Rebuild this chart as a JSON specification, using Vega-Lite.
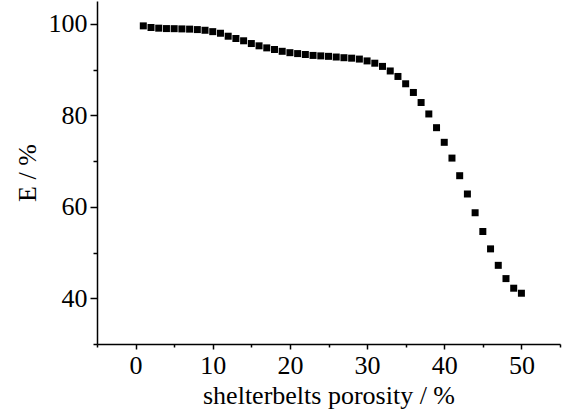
{
  "$schema": "https://vega.github.io/schema/vega-lite/v6.json",
  "width": 463,
  "height": 343,
  "autosize": "none",
  "padding": {"left": 97, "top": 1, "right": 3, "bottom": 73},
  "background": "white",
  "config": {
    "view": {"stroke": null},
    "axis": {"grid": false, "labelFont": "Liberation Serif", "titleFont": "Liberation Serif", "labelColor": "black", "titleColor": "black", "domainColor": "black", "tickColor": "black", "labelFontSize": 26, "titleFontSize": 26, "titleFontWeight": "normal", "domainWidth": 1.5, "tickWidth": 1.5}
  },
  "data": {"values": [
    {"p": 1, "E": 99.56}, {"p": 2, "E": 99.2}, {"p": 3, "E": 99.06}, {"p": 4, "E": 98.97}, {"p": 5, "E": 98.95},
    {"p": 6, "E": 98.9}, {"p": 7, "E": 98.85}, {"p": 8, "E": 98.75}, {"p": 9, "E": 98.6}, {"p": 10, "E": 98.3},
    {"p": 11, "E": 97.95}, {"p": 12, "E": 97.3}, {"p": 13, "E": 96.8}, {"p": 14, "E": 96.3}, {"p": 15, "E": 95.7},
    {"p": 16, "E": 95.2}, {"p": 17, "E": 94.75}, {"p": 18, "E": 94.4}, {"p": 19, "E": 94.0}, {"p": 20, "E": 93.7},
    {"p": 21, "E": 93.5}, {"p": 22, "E": 93.3}, {"p": 23, "E": 93.1}, {"p": 24, "E": 93.0}, {"p": 25, "E": 92.9},
    {"p": 26, "E": 92.75}, {"p": 27, "E": 92.6}, {"p": 28, "E": 92.5}, {"p": 29, "E": 92.3}, {"p": 30, "E": 91.9},
    {"p": 31, "E": 91.4}, {"p": 32, "E": 90.7}, {"p": 33, "E": 89.7}, {"p": 34, "E": 88.5}, {"p": 35, "E": 86.9},
    {"p": 36, "E": 85.0}, {"p": 37, "E": 82.8}, {"p": 38, "E": 80.3}, {"p": 39, "E": 77.3}, {"p": 40, "E": 74.1},
    {"p": 41, "E": 70.65}, {"p": 42, "E": 66.8}, {"p": 43, "E": 62.8}, {"p": 44, "E": 58.7}, {"p": 45, "E": 54.6},
    {"p": 46, "E": 50.8}, {"p": 47, "E": 47.2}, {"p": 48, "E": 44.3}, {"p": 49, "E": 42.2}, {"p": 50, "E": 41.1}
  ]},
  "layer": [
    {
      "mark": {"type": "point", "shape": "square", "filled": true, "size": 49, "color": "black", "opacity": 1},
      "encoding": {
        "x": {"field": "p", "type": "quantitative", "scale": {"domain": [-5, 55], "nice": false, "zero": false},
          "axis": {"orient": "bottom", "values": [0, 10, 20, 30, 40, 50], "tickSize": 5, "labelPadding": 3, "title": "shelterbelts porosity / %", "titlePadding": 4, "labelFlush": false}},
        "y": {"field": "E", "type": "quantitative", "scale": {"domain": [30, 105], "nice": false, "zero": false},
          "axis": {"orient": "left", "values": [40, 60, 80, 100], "tickSize": 7, "labelPadding": 3, "title": "E / %", "titlePadding": 8, "labelFlush": false}}
      }
    },
    {
      "mark": {"type": "point", "opacity": 0},
      "encoding": {
        "x": {"field": "p", "type": "quantitative",
          "axis": {"orient": "bottom", "values": [-5, 5, 15, 25, 35, 45, 55], "tickSize": 3, "labels": false, "domain": false, "title": null}},
        "y": {"field": "E", "type": "quantitative",
          "axis": {"orient": "left", "values": [30, 50, 70, 90], "tickSize": 4, "labels": false, "domain": false, "title": null}}
      }
    }
  ],
  "resolve": {"axis": {"x": "independent", "y": "independent"}}
}
